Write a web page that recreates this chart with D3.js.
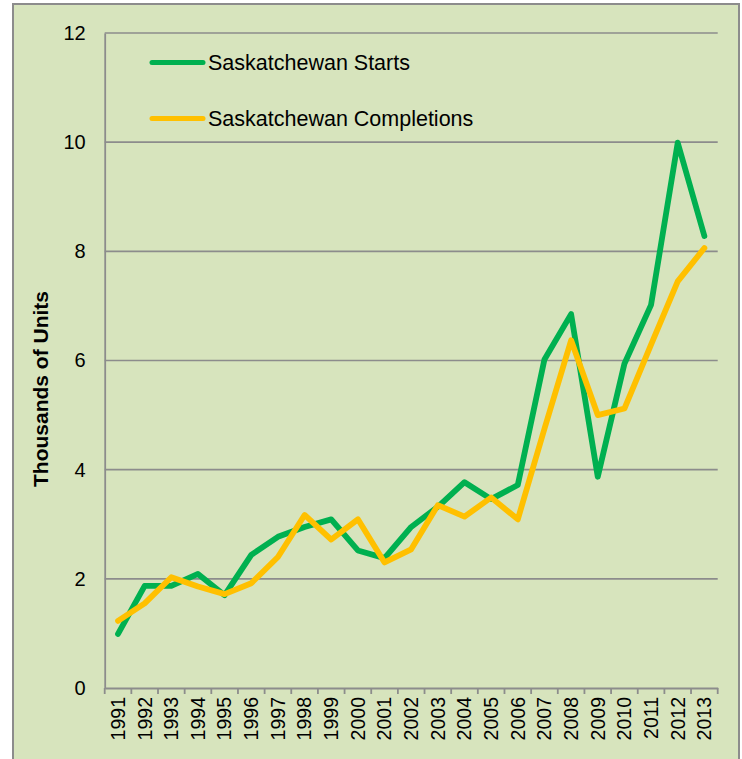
<!DOCTYPE html>
<html>
<head>
<script src="https://d3js.org/d3.v7.min.js"></script>
<style>
    body { margin: 0; background: #fff; }
    text { font-family: "Liberation Sans", Arial, sans-serif; fill: #000; }
</style>
</head>
<body>
<script>
    // data
    var years = ['1991','1992','1993','1994','1995','1996','1997','1998','1999','2000','2001','2002',
                 '2003','2004','2005','2006','2007','2008','2009','2010','2011','2012','2013'];
    var starts = [0.99, 1.87, 1.87, 2.09, 1.70, 2.44, 2.77, 2.95, 3.09, 2.52, 2.38, 2.95,
                  3.32, 3.77, 3.46, 3.72, 6.02, 6.85, 3.87, 5.94, 7.02, 9.99, 8.28];
    var completions = [1.23, 1.55, 2.03, 1.86, 1.72, 1.92, 2.40, 3.17, 2.72, 3.09, 2.30, 2.54,
                       3.35, 3.14, 3.49, 3.09, 4.75, 6.37, 5.00, 5.12, 6.29, 7.45, 8.06];
    var yTicks = [0, 2, 4, 6, 8, 10, 12];
    var seriesNames = ['Saskatchewan Starts', 'Saskatchewan Completions'];
    var seriesColors = ['#00b050', '#ffc000'];

    var W = 742, H = 759;
    var plot = { left: 104.7, right: 717.7, top: 33, bottom: 688 };

    var svg = d3.select('body')
        .append('svg')
        .attr('width', W)
        .attr('height', H);

    // chart background + frame
    svg.append('rect')
        .attr('x', 13)
        .attr('y', 4)
        .attr('width', 726)
        .attr('height', 770)
        .attr('fill', '#d7e4bd')
        .attr('stroke', '#8c8c8c')
        .attr('stroke-width', 2);

    var x = d3.scaleBand()
        .domain(years)
        .range([plot.left, plot.right]);
    var y = d3.scaleLinear()
        .domain([0, 12])
        .range([plot.bottom, plot.top]);

    // gridlines
    svg.append('g')
        .selectAll('line')
        .data(yTicks.filter(d => d > 0))
        .enter()
        .append('line')
        .attr('x1', plot.left)
        .attr('x2', plot.right)
        .attr('y1', d => y(d))
        .attr('y2', d => y(d))
        .attr('stroke', '#8c8c8c')
        .attr('stroke-width', 1.6);

    // y axis
    var yAxis = d3.axisLeft(y).tickValues(yTicks).tickSize(0).tickPadding(19);
    var gy = svg.append('g')
        .attr('transform', 'translate(' + plot.left + ',0)')
        .call(yAxis);
    gy.select('.domain').attr('stroke', '#8c8c8c').attr('stroke-width', 1.8);
    gy.selectAll('text')
        .style('font-size', '20px')
        .attr('fill', '#000');

    // x axis
    var xAxis = d3.axisBottom(x).tickSize(0);
    var gx = svg.append('g')
        .attr('transform', 'translate(0,' + plot.bottom + ')')
        .call(xAxis);
    gx.select('.domain').attr('stroke', '#8c8c8c').attr('stroke-width', 1.8);
    gx.selectAll('.tick text')
        .style('font-size', '19.5px')
        .attr('fill', '#000')
        .attr('text-anchor', 'end')
        .attr('transform', 'rotate(-90)')
        .attr('x', -9)
        .attr('y', 0)
        .attr('dy', '0.35em');
    // tick marks at category boundaries
    gx.append('g')
        .selectAll('line')
        .data(years.concat(['end']))
        .enter()
        .append('line')
        .attr('x1', (d, i) => plot.left + i * x.bandwidth())
        .attr('x2', (d, i) => plot.left + i * x.bandwidth())
        .attr('y1', 0)
        .attr('y2', 6)
        .attr('stroke', '#8c8c8c')
        .attr('stroke-width', 1.8);

    // axis title
    svg.append('text')
        .attr('transform', 'translate(48,389) rotate(-90)')
        .attr('text-anchor', 'middle')
        .style('font-size', '21px')
        .style('font-weight', 'bold')
        .text('Thousands of Units');

    // lines
    var line = d3.line()
        .x((d, i) => x(years[i]) + x.bandwidth() / 2)
        .y(d => y(d));

    [starts, completions].forEach(function (vals, k) {
        svg.append('path')
            .datum(vals)
            .attr('d', line)
            .attr('fill', 'none')
            .attr('stroke', seriesColors[k])
            .attr('stroke-width', 5.8)
            .attr('stroke-linejoin', 'round')
            .attr('stroke-linecap', 'round');
    });

    // legend
    var legend = svg.append('g');
    seriesNames.forEach(function (name, k) {
        var ly = 62.5 + k * 56;
        legend.append('line')
            .attr('x1', 152)
            .attr('x2', 203)
            .attr('y1', ly)
            .attr('y2', ly)
            .attr('stroke', seriesColors[k])
            .attr('stroke-width', 5)
            .attr('stroke-linecap', 'round');
        legend.append('text')
            .attr('x', 208)
            .attr('y', ly)
            .attr('dy', '0.35em')
            .style('font-size', '21.5px')
            .text(name);
    });
</script>
</body>
</html>
